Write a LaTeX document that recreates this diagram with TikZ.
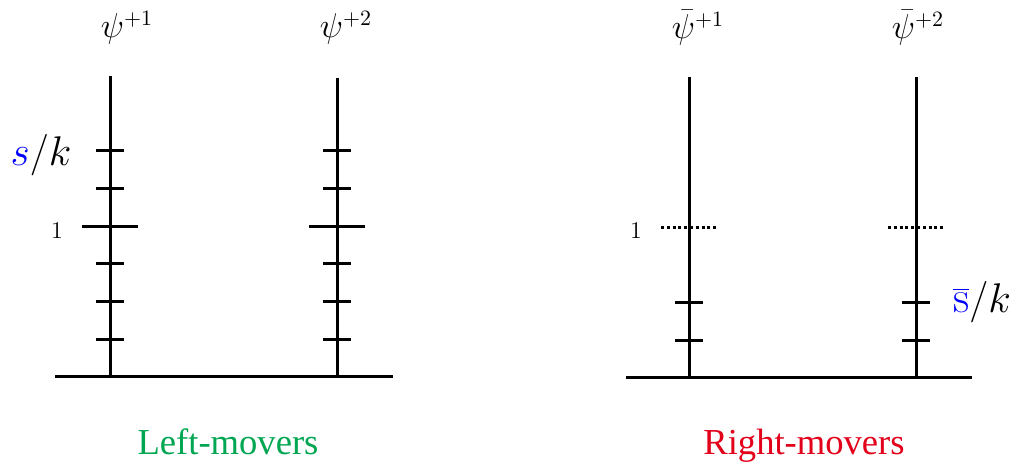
\documentclass[tikz,border=0pt]{standalone}
\usepackage{fontspec}
\newfontfamily\capfont{Liberation Serif}
\definecolor{lmgreen}{RGB}{0,166,81}
\definecolor{rmred}{RGB}{226,0,26}
\begin{document}
\begin{tikzpicture}[x=0.5pt,y=-0.5pt,
  axis/.style={line width=1.5pt},
  tick/.style={line width=1.5pt},
  dotline/.style={line width=1.5pt,dash pattern=on 1.5pt off 1.4pt},
  lbl/.style={inner sep=0pt},
  caption/.style={inner sep=0pt,anchor=base,font=\capfont\fontsize{18.3}{20}\selectfont}]
\useasboundingbox (0,0) rectangle (1017,464);
% ---------- left movers ----------
\coordinate (LB0) at (55,377);
\coordinate (LB1) at (393,377);
\coordinate (L1top) at (110,76);
\coordinate (L1bot) at (110,377);
\coordinate (L2top) at (337,78);
\coordinate (L2bot) at (337,377);
\draw[axis] (LB0) -- (LB1);
\draw[axis] (L1top) -- (L1bot);
\draw[axis] (L2top) -- (L2bot);
\foreach \x in {110,337}{
  \foreach \y in {151,189,264,302,340}{
    \draw[tick] (\x-14,\y) -- (\x+14,\y);
  }
  \draw[tick] (\x-28,227) -- (\x+28,227);
}
\node[lbl,font=\fontsize{16}{18}\selectfont] (psi1) at (127,28) {$\psi^{+1}$};
\node[lbl,font=\fontsize{16}{18}\selectfont] (psi2) at (346,28) {$\psi^{+2}$};
\node[lbl,font=\fontsize{22.5}{24}\selectfont] (sk) at (41,155) {$\textcolor{blue}{s}/k$};
\node[lbl,font=\fontsize{12.5}{14}\selectfont] (one1) at (57,231) {$1$};
\node[caption,text=lmgreen] (lm) at (228,454) {Left-movers};
% ---------- right movers ----------
\coordinate (RB0) at (626,378);
\coordinate (RB1) at (972,378);
\coordinate (R1top) at (689,77);
\coordinate (R1bot) at (689,378);
\coordinate (R2top) at (916,77);
\coordinate (R2bot) at (916,378);
\draw[axis] (RB0) -- (RB1);
\draw[axis] (R1top) -- (R1bot);
\draw[axis] (R2top) -- (R2bot);
\foreach \x in {689,916}{
  \foreach \y in {303,341}{
    \draw[tick] (\x-14,\y) -- (\x+14,\y);
  }
  \draw[dotline] (\x-28,228) -- (\x+27,228);
}
\node[lbl,font=\fontsize{16}{18}\selectfont] (pb1) at (698,28) {$\bar\psi^{+1}$};
\node[lbl,font=\fontsize{16}{18}\selectfont] (pb2) at (918,28) {$\bar\psi^{+2}$};
\node[lbl,font=\fontsize{12.5}{14}\selectfont] (one2) at (636,231) {$1$};
\node[lbl,font=\fontsize{22.5}{24}\selectfont] (sbk) at (982,302) {$\textcolor{blue}{\overline{\mathrm{s}}}/k$};
\node[caption,text=rmred] (rm) at (804,454) {Right-movers};
\end{tikzpicture}
\end{document}
